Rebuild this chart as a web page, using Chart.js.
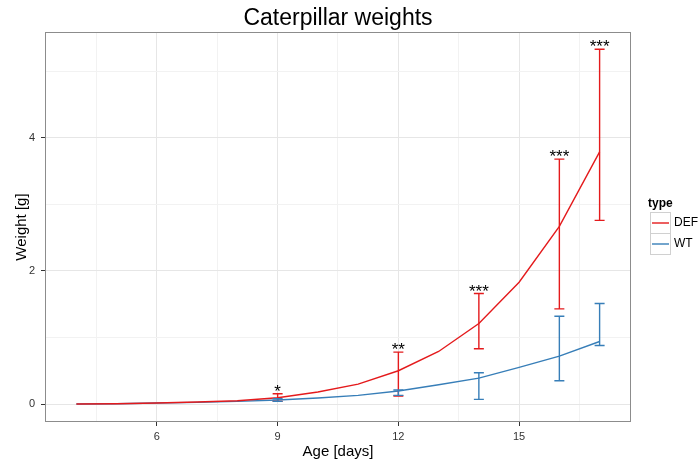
<!DOCTYPE html>
<html><head><meta charset="utf-8">
<script src="https://cdn.jsdelivr.net/npm/chart.js@4"></script>
<style>html,body{margin:0;padding:0;background:#fff}#wrap{width:699px;height:463px}</style>
</head><body><div id="wrap"><canvas id="c" width="699" height="463"></canvas></div>
<script>
const days = [4,5,6,7,8,9,10,11,12,13,14,15,16,17];
const defMean = [0.0,0.005,0.015,0.03,0.05,0.095,0.18,0.30,0.50,0.79,1.21,1.83,2.67,3.79];
const wtMean  = [0.0,0.005,0.015,0.025,0.04,0.06,0.09,0.13,0.195,0.29,0.39,0.55,0.72,0.94];
const errDays = [9,12,14,16,17];
const defLow  = [0.04,0.12,0.83,1.43,2.76];
const defHigh = [0.155,0.78,1.66,3.68,5.33];
const wtLow   = [0.04,0.13,0.07,0.35,0.88];
const wtHigh  = [0.08,0.21,0.47,1.32,1.51];
const stars   = ['*','**','***','***','***'];
const xTicks = [4.5,6,7.5,9,10.5,12,13.5,15,16.5];
const xMajor = [6,9,12,15];
const yTicks = [0,1,2,3,4,5];
const yMajor = [0,2,4];
const RED = '#E41A1C', BLUE = '#377EB8';
const FONT = '"Liberation Sans", Arial, sans-serif';

const extras = {
  id: 'extras',
  afterDatasetsDraw(chart) {
    const ctx = chart.ctx, xs = chart.scales.x, ys = chart.scales.y;
    const bars = (lo, hi, col) => {
      ctx.save(); ctx.strokeStyle = col; ctx.lineWidth = 1.4;
      errDays.forEach((d, i) => {
        const px = xs.getPixelForValue(d), y1 = ys.getPixelForValue(lo[i]), y2 = ys.getPixelForValue(hi[i]);
        ctx.beginPath();
        ctx.moveTo(px, y1); ctx.lineTo(px, y2);
        ctx.moveTo(px-5, y1); ctx.lineTo(px+5, y1);
        ctx.moveTo(px-5, y2); ctx.lineTo(px+5, y2);
        ctx.stroke();
      });
      ctx.restore();
    };
    bars(defLow, defHigh, RED);
    bars(wtLow, wtHigh, BLUE);
    ctx.save();
    ctx.fillStyle = '#000'; ctx.font = '17px ' + FONT; ctx.textAlign = 'center'; ctx.textBaseline = 'alphabetic';
    errDays.forEach((d, i) => {
      ctx.fillText(stars[i], xs.getPixelForValue(d), ys.getPixelForValue(defHigh[i]) + 3);
    });
    ctx.restore();
  },
  beforeDraw(chart) {
    const ctx = chart.ctx;
    ctx.save(); ctx.fillStyle = '#fff'; ctx.fillRect(0,0,chart.width,chart.height); ctx.restore();
  },
  afterDraw(chart) {
    const ctx = chart.ctx, a = chart.chartArea;
    ctx.save();
    ctx.strokeStyle = '#8c8c8c'; ctx.lineWidth = 1;
    ctx.strokeRect(a.left + 0.5, a.top + 0.5, a.right - a.left - 1, a.bottom - a.top - 1);
    ctx.fillStyle = '#000'; ctx.font = '23px ' + FONT; ctx.textAlign = 'center'; ctx.textBaseline = 'middle';
    ctx.fillText('Caterpillar weights', (a.left + a.right) / 2, 19);
    // legend
    ctx.textAlign = 'left';
    ctx.font = 'bold 12px ' + FONT;
    ctx.fillText('type', 648, 204);
    const items = [['DEF', RED], ['WT', BLUE]];
    items.forEach((it, i) => {
      const top = 212 + i * 21;
      ctx.fillStyle = '#fff'; ctx.fillRect(650, top, 20, 21);
      ctx.strokeStyle = '#d0d0d0'; ctx.lineWidth = 1;
      ctx.strokeRect(650.5, top + 0.5, 20, 21);
      ctx.strokeStyle = it[1]; ctx.lineWidth = 1.4;
      ctx.beginPath(); ctx.moveTo(652, top + 11); ctx.lineTo(669, top + 11); ctx.stroke();
      ctx.fillStyle = '#000'; ctx.font = '12px ' + FONT;
      ctx.fillText(it[0], 674, top + 11);
    });
    ctx.restore();
  }
};

new Chart(document.getElementById('c'), {
  type: 'line',
  data: {
    datasets: [
      { label: 'DEF', data: days.map((d,i)=>({x:d,y:defMean[i]})), borderColor: RED, borderWidth: 1.4, pointRadius: 0, tension: 0, fill: false },
      { label: 'WT', data: days.map((d,i)=>({x:d,y:wtMean[i]})), borderColor: BLUE, borderWidth: 1.4, pointRadius: 0, tension: 0, fill: false }
    ]
  },
  options: {
    responsive: false, animation: false,
    layout: { padding: { left: 0, right: 68, top: 32, bottom: 0 } },
    plugins: { legend: { display: false }, tooltip: { enabled: false }, title: { display: false } },
    scales: {
      x: {
        type: 'linear', min: 3.22, max: 17.78,
        afterBuildTicks: s => { s.ticks = xTicks.map(v => ({ value: v })); },
        afterFit: s => { s.height = 41; },
        border: { display: false },
        grid: {
          color: c => xMajor.includes(c.tick && c.tick.value) ? '#e6e6e6' : '#f2f2f2',
          tickColor: c => xMajor.includes(c.tick && c.tick.value) ? '#333' : 'rgba(0,0,0,0)',
          tickLength: 4, lineWidth: 1, drawOnChartArea: true
        },
        ticks: {
          autoSkip: false, maxRotation: 0, padding: 4,
          color: '#333', font: { family: FONT, size: 11 },
          callback: v => xMajor.includes(v) ? String(v) : ''
        },
        title: { display: true, text: 'Age [days]', color: '#000', font: { family: FONT, size: 15 }, padding: { top: 0, bottom: 2 } }
      },
      y: {
        type: 'linear', min: -0.27, max: 5.59,
        afterBuildTicks: s => { s.ticks = yTicks.map(v => ({ value: v })); },
        afterFit: s => { s.width = 45; },
        border: { display: false },
        grid: {
          color: c => yMajor.includes(c.tick && c.tick.value) ? '#e6e6e6' : '#f2f2f2',
          tickColor: c => yMajor.includes(c.tick && c.tick.value) ? '#333' : 'rgba(0,0,0,0)',
          tickLength: 4, lineWidth: 1
        },
        ticks: {
          autoSkip: false, padding: 6,
          color: '#333', font: { family: FONT, size: 11 },
          callback: v => yMajor.includes(v) ? String(v) : ''
        },
        title: { display: true, text: 'Weight [g]', color: '#000', font: { family: FONT, size: 15 }, padding: { top: 13, bottom: 0 } }
      }
    }
  },
  plugins: [extras]
});
</script></body></html>
